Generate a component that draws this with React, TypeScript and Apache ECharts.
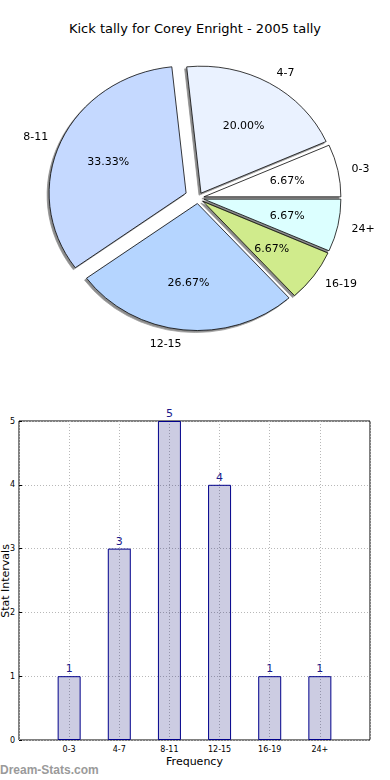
import React, { useEffect, useRef } from "react";
import * as echarts from "echarts";

const categories = ["0-3", "4-7", "8-11", "12-15", "16-19", "24+"];
const tallies = [1, 3, 5, 4, 1, 1];
const sliceColors = ["#ffffff", "#eaf2ff", "#c5d9ff", "#b5d5ff", "#d0eb8c", "#dcffff"];
const explodedCategory = "8-11";
const yTicks = [0, 1, 2, 3, 4, 5];

const FONT = "DejaVu Sans";
const total = tallies.reduce((a, b) => a + b, 0);
// one empty slot on each side of the bar categories (matplotlib x-limits)
const xSlots = ["", ...categories, ""];
const barData = ["-", ...tallies, "-"];

// the reference pie is drawn in non-equal-aspect axes: slightly flattened
const PIE_SQUASH = 0.927;

export default function App() {
  const ref = useRef<HTMLDivElement>(null);
  const pieRef = useRef<HTMLDivElement>(null);
  useEffect(() => {
    if (!ref.current || !pieRef.current) return;
    const chart = echarts.init(ref.current, undefined, { renderer: "svg" });
    const pie = echarts.init(pieRef.current, undefined, { renderer: "svg" });
    const R = 137;
    const center = [198, 198 / PIE_SQUASH];

    const hidden = {
      itemStyle: { color: "transparent", borderWidth: 0, shadowColor: "transparent", shadowBlur: 0, shadowOffsetX: 0, shadowOffsetY: 0 },
      label: { show: false },
    };

    const sliceSeries = (bigOnly: boolean, offset: number) => ({
      type: "pie",
      center,
      radius: [0, R],
      startAngle: 0,
      clockwise: false,
      selectedMode: "multiple",
      selectedOffset: offset,
      avoidLabelOverlap: false,
      silent: true,
      emphasis: { disabled: true },
      labelLine: { show: false, length: 14, length2: 0 },
      label: {
        show: true,
        position: "outside",
        formatter: "{b}",
        fontFamily: FONT,
        fontSize: 11,
        color: "#000",
        distanceToLabelLine: 0,
      },
      itemStyle: {
        borderColor: "#000",
        borderWidth: 0.8,
        shadowColor: "rgba(0,0,0,0.45)",
        shadowBlur: 1,
        shadowOffsetX: -2,
        shadowOffsetY: 2,
      },
      data: categories.map((c, i) => {
        const show = (c === explodedCategory) === bigOnly;
        const base: any = { name: c, value: tallies[i], selected: true };
        if (show) base.itemStyle = { color: sliceColors[i] };
        else Object.assign(base, hidden);
        return base;
      }),
    });

    const pctSeries = (bigOnly: boolean, offset: number) => ({
      type: "pie",
      center,
      radius: [R * 0.2, R],
      startAngle: 0,
      clockwise: false,
      selectedMode: "multiple",
      selectedOffset: offset,
      avoidLabelOverlap: false,
      silent: true,
      z: 5,
      emphasis: { disabled: true },
      labelLine: { show: false },
      itemStyle: { color: "transparent", borderWidth: 0 },
      label: {
        show: true,
        position: "inside",
        fontFamily: FONT,
        fontSize: 11,
        color: "#000",
        formatter: (p: any) => ((p.value / total) * 100).toFixed(2) + "%",
      },
      data: categories.map((c, i) => {
        const show = (c === explodedCategory) === bigOnly;
        return { name: c, value: tallies[i], selected: true, label: { show } };
      }),
    });

    pie.setOption({
      animation: false,
      series: [sliceSeries(false, 6), sliceSeries(true, 13), pctSeries(false, 6), pctSeries(true, 13)],
    } as any);

    const option: any = {
      animation: false,
      backgroundColor: "#fff",
      textStyle: { fontFamily: FONT },
      title: {
        text: "Kick tally for Corey Enright - 2005 tally",
        left: "center",
        top: 17,
        textStyle: { fontFamily: FONT, fontSize: 13, fontWeight: "normal", color: "#000" },
      },
      grid: {
        left: 19,
        right: 20,
        top: 421,
        bottom: 40,
        containLabel: false,
        outerBoundsMode: "none",
        show: true,
        borderColor: "#000",
        borderWidth: 1,
      },
      xAxis: {
        type: "category",
        data: xSlots,
        boundaryGap: false,
        name: "Frequency",
        nameLocation: "middle",
        nameGap: 16,
        nameTextStyle: { fontFamily: FONT, fontSize: 11, color: "#000", verticalAlign: "top" },
        axisLine: { show: false },
        axisTick: { show: false },
        axisLabel: {
          interval: 0,
          fontFamily: FONT,
          fontSize: 8,
          color: "#000",
          margin: 5,
        },
        splitLine: { show: true, interval: 0, lineStyle: { color: "#b8b8b8", type: [1, 2], width: 1 } },
      },
      yAxis: {
        type: "value",
        min: yTicks[0],
        max: yTicks[yTicks.length - 1],
        interval: 1,
        axisLine: { show: false },
        axisTick: { show: true, inside: true, length: 3, lineStyle: { color: "#000" } },
        axisLabel: { fontFamily: FONT, fontSize: 8, color: "#000", margin: 4 },
        splitLine: { show: true, lineStyle: { color: "#b8b8b8", type: [1, 2], width: 1 } },
      },
      graphic: [
        {
          type: "text",
          x: 5,
          y: 581,
          rotation: Math.PI / 2,
          style: {
            text: "Stat Intervals",
            fontFamily: FONT,
            fontSize: 11,
            fill: "#000",
            align: "center",
            verticalAlign: "middle",
          },
        },
        {
          type: "text",
          left: 0,
          top: 764,
          style: { text: "Dream-Stats.com", fontFamily: "Liberation Sans", fontSize: 12, fontWeight: "bold", fill: "#9a9a9a" },
        },
      ],
      series: [
        {
          type: "bar",
          data: barData,
          barWidth: 23,
          itemStyle: { color: "rgba(0,0,110,0.2)", borderColor: "#00008b", borderWidth: 1 },
          label: {
            show: true,
            position: "top",
            distance: 2,
            fontFamily: FONT,
            fontSize: 11,
            color: "#1a1a8c",
          },
          silent: true,
        },
      ],
    };
    chart.setOption(option);
    return () => {
      pie.dispose();
      chart.dispose();
    };
  }, []);
  return (
    <div style={{ position: "fixed", left: 0, top: 0, width: 390, height: 780, background: "#fff" }}>
      <div ref={ref} style={{ position: "absolute", left: 0, top: 0, width: 390, height: 780 }} />
      <div
        ref={pieRef}
        style={{
          position: "absolute",
          left: 0,
          top: 0,
          width: 390,
          height: 400,
          transform: `scaleY(${PIE_SQUASH})`,
          transformOrigin: "0 0",
        }}
      />
    </div>
  );
}
